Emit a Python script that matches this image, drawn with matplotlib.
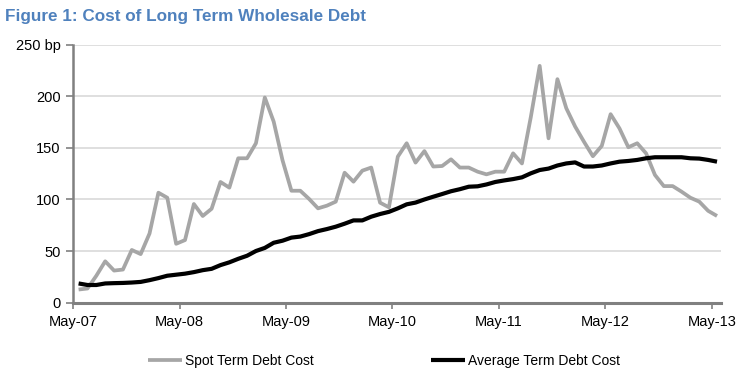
import matplotlib
matplotlib.use("Agg")
import matplotlib.pyplot as plt
from matplotlib import font_manager

names = {f.name for f in font_manager.fontManager.ttflist}
narrow = "Liberation Sans Narrow" if "Liberation Sans Narrow" in names else "Liberation Sans"
plt.rcParams['font.family'] = [narrow, 'DejaVu Sans']

tick_labels = ["May-07", "May-08", "May-09", "May-10", "May-11", "May-12", "May-13"]

spot = [12.6, 13.6, 26, 40, 31, 32, 51, 47, 67, 106.6, 101.7, 57, 60.6, 95.6, 84, 91,
        117, 111.5, 140, 140, 154.6, 199, 175.6, 138, 108.5, 108.5,
        100.5, 91.4, 94, 97.9, 126, 117.3, 128, 131, 96.9, 92.4, 141.6, 154.6, 135.8,
        147, 132, 132.5, 139, 131, 131, 127, 124.4, 127, 127, 144.8, 135,
        180, 229.7, 159.4, 216.8, 188.6, 170.8, 156, 142, 152, 182.8, 169, 150.7,
        154.6, 144.8, 123.8, 113, 113, 107.6, 101.7, 97.9, 89, 84]

average = [18.5, 17, 17, 18.5, 18.8, 19, 19.4, 20, 21.7, 23.7, 26, 27, 28, 29.5, 31.4,
           32.7, 36.3, 39, 42.4, 45.4, 50, 53, 58, 60, 63, 64,
           66.4, 69.3, 71.3, 73.6, 76.5, 79.7, 79.7, 83.3, 85.9, 88, 91.4, 95.3, 97,
           100, 102.7, 105.3, 108, 110, 112.4, 112.8, 114.6, 117, 118.5, 119.8, 121.5,
           125.4, 128.6, 130, 133, 135, 136, 132, 132, 133, 135, 136.7, 137.4,
           138.4, 140, 141, 141, 141, 141, 140, 139.7, 138.4, 136.7]

months = [k + 0.6 for k in range(len(spot))]

fig = plt.figure(figsize=(7.44, 3.81), dpi=100)
ax = fig.add_axes([0.0985, 0.206, 0.870, 0.676])

ax.plot(months, spot, color="#A6A6A6", lw=2.7, solid_capstyle="butt",
        label="Spot Term Debt Cost", zorder=3)
ax.plot(months, average, color="#000000", lw=3.0, solid_capstyle="butt",
        label="Average Term Debt Cost", zorder=4)

ax.set_xlim(0, 73)
ax.set_ylim(0, 250)
ax.set_yticks([0, 50, 100, 150, 200, 250])
ax.set_yticklabels(["0", "50", "100", "150", "200", "250 bp"])
ax.set_xticks([12 * i for i in range(len(tick_labels))])
ax.set_xticklabels(tick_labels)

ax.grid(axis="y", color="#D9D9D9", lw=1.2, zorder=0)
for s in ["top", "right"]:
    ax.spines[s].set_visible(False)
ax.spines["left"].set_color("#808080")
ax.spines["left"].set_linewidth(1.8)
ax.spines["bottom"].set_color("#808080")
ax.spines["bottom"].set_linewidth(2.2)
ax.tick_params(axis="y", direction="out", length=5, width=1.2, color="#808080",
               labelsize=10.5, pad=4)
ax.tick_params(axis="x", direction="out", length=4, width=1.2, color="#808080",
               labelsize=10.5, pad=5)

fig.text(0.007, 0.958, "Figure 1: Cost of Long Term Wholesale Debt", color="#4F81BD",
         fontsize=12.3, fontweight="bold", va="center", ha="left")

leg = fig.legend(loc="center", bbox_to_anchor=(0.516, 0.052), ncol=2, frameon=False,
                 fontsize=10, handlelength=2.5, handletextpad=0.2, columnspacing=8.4)

fig.savefig("out.png", dpi=100)
